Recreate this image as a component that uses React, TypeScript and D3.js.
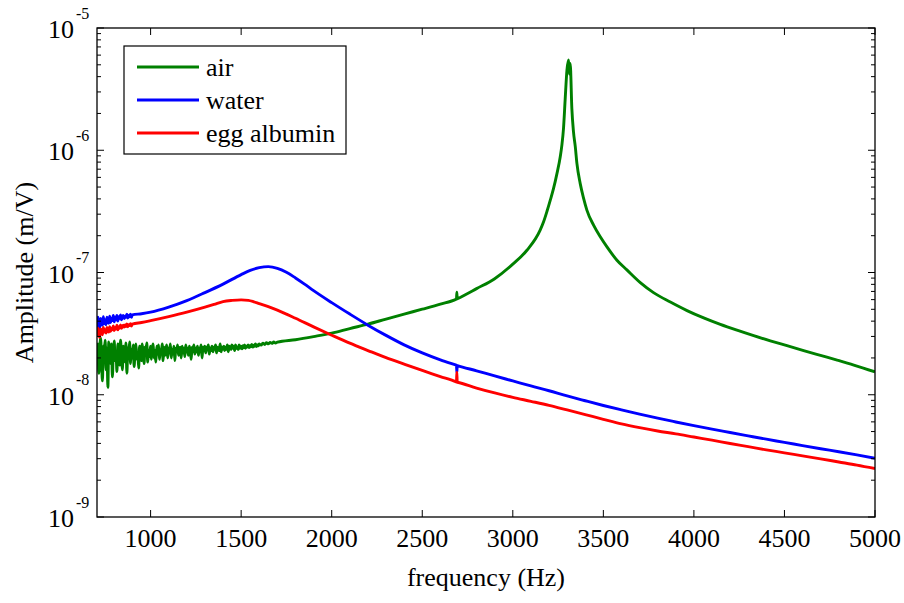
import React from 'react';
import * as d3 from 'd3';

// ---------- data (frequency in Hz, amplitude in m/V) ----------
const airFreq = [
  704, 709, 714, 719, 724, 729, 734, 739, 744, 749,
  754, 759, 764, 769, 774, 779, 784, 789, 794, 799,
  804, 809, 814, 819, 824, 829, 834, 839, 844, 849,
  854, 859, 864, 869, 874, 879, 884, 889, 894, 899,
  904, 909, 914, 919, 924, 929, 934, 939, 944, 949,
  954, 959, 964, 969, 974, 979, 984, 989, 994, 999,
  1004, 1009, 1014, 1019, 1024, 1029, 1034, 1039, 1044, 1049,
  1054, 1059, 1064, 1069, 1074, 1079, 1084, 1089, 1094, 1099,
  1104, 1109, 1114, 1119, 1124, 1129, 1134, 1139, 1144, 1149,
  1154, 1159, 1164, 1169, 1174, 1179, 1184, 1189, 1194, 1199,
  1204, 1209, 1214, 1219, 1224, 1229, 1234, 1239, 1244, 1249,
  1254, 1259, 1264, 1269, 1274, 1279, 1284, 1289, 1294, 1299,
  1304, 1309, 1314, 1319, 1324, 1329, 1334, 1339, 1344, 1349,
  1354, 1359, 1364, 1369, 1374, 1379, 1384, 1389, 1394, 1399,
  1404, 1409, 1414, 1419, 1424, 1429, 1434, 1439, 1444, 1449,
  1454, 1459, 1464, 1469, 1474, 1479, 1484, 1489, 1494, 1499,
  1504, 1509, 1514, 1519, 1524, 1529, 1534, 1539, 1544, 1549,
  1554, 1559, 1564, 1569, 1574, 1579, 1584, 1589, 1594, 1599,
  1610, 1620, 1630, 1640, 1650, 1660, 1670, 1680, 1690, 1700,
  1800, 1900, 2000, 2100, 2200, 2300, 2400, 2500, 2600, 2688,
  2689, 2691, 2693, 2694, 2800, 2900, 3000, 3078, 3151, 3170,
  3188, 3207, 3225, 3244, 3262, 3271, 3280, 3289, 3299, 3308,
  3312, 3317, 3326, 3335, 3345, 3354, 3372, 3391, 3409, 3446,
  3483, 3520, 3575, 3630, 3704, 3777, 3870, 3962, 4054, 4146,
  4238, 4330, 4422, 4514, 4606, 4699, 4791, 4883, 5000,
];
const airAmp = [
  2.0e-8, 2.6e-8, 1.5e-8, 2.3e-8, 2.9e-8, 1.9e-8, 1.3e-8, 2.5e-8, 2.2e-8, 2.8e-8,
  1.6e-8, 2.4e-8, 1.15e-8, 2.7e-8, 2.1e-8, 1.8e-8, 2.6e-8, 1.4e-8, 2.3e-8, 2.75e-8,
  1.9e-8, 2.2e-8, 1.55e-8, 2.6e-8, 2.4e-8, 1.75e-8, 2.8e-8, 2.0e-8, 1.6e-8, 2.5e-8,
  2.3e-8, 1.85e-8, 2.65e-8, 1.5e-8, 2.4e-8, 2.1e-8, 2.7e-8, 1.8e-8, 2.35e-8, 2.0e-8,
  2.55e-8, 1.7e-8, 2.3e-8, 2.6e-8, 1.95e-8, 2.2e-8, 1.65e-8, 2.5e-8, 2.35e-8, 1.9e-8,
  2.6e-8, 2.1e-8, 1.8e-8, 2.45e-8, 2.25e-8, 2.65e-8, 1.85e-8, 2.3e-8, 2.05e-8, 2.5e-8,
  1.95e-8, 2.4e-8, 2.6e-8, 2.0e-8, 2.3e-8, 1.85e-8, 2.5e-8, 2.15e-8, 2.55e-8, 1.95e-8,
  2.35e-8, 2.2e-8, 2.6e-8, 1.9e-8, 2.45e-8, 2.1e-8, 2.3e-8, 2.55e-8, 2.0e-8, 2.4e-8,
  2.2e-8, 2.6e-8, 2.0e-8, 2.35e-8, 2.15e-8, 2.5e-8, 1.9e-8, 2.4e-8, 2.25e-8, 2.55e-8,
  2.1e-8, 2.35e-8, 2.45e-8, 2.0e-8, 2.5e-8, 2.2e-8, 2.4e-8, 2.05e-8, 2.55e-8, 2.25e-8,
  2.4e-8, 2.1e-8, 2.5e-8, 2.3e-8, 1.95e-8, 2.45e-8, 2.25e-8, 2.55e-8, 2.15e-8, 2.4e-8,
  2.25e-8, 2.5e-8, 2.1e-8, 2.4e-8, 2.3e-8, 2.55e-8, 2.0e-8, 2.45e-8, 2.3e-8, 2.5e-8,
  2.2e-8, 2.45e-8, 2.35e-8, 2.55e-8, 2.15e-8, 2.4e-8, 2.3e-8, 2.5e-8, 2.25e-8, 2.45e-8,
  2.35e-8, 2.55e-8, 2.2e-8, 2.45e-8, 2.4e-8, 2.3e-8, 2.6e-8, 2.25e-8, 2.45e-8, 2.35e-8,
  2.5e-8, 2.3e-8, 2.45e-8, 2.35e-8, 2.55e-8, 2.25e-8, 2.5e-8, 2.4e-8, 2.35e-8, 2.55e-8,
  2.4e-8, 2.5e-8, 2.3e-8, 2.55e-8, 2.4e-8, 2.45e-8, 2.35e-8, 2.55e-8, 2.4e-8, 2.5e-8,
  2.38e-8, 2.52e-8, 2.42e-8, 2.55e-8, 2.4e-8, 2.5e-8, 2.45e-8, 2.56e-8, 2.43e-8, 2.52e-8,
  2.47e-8, 2.58e-8, 2.45e-8, 2.54e-8, 2.49e-8, 2.6e-8, 2.48e-8, 2.55e-8, 2.51e-8, 2.6e-8,
  2.55e-8, 2.64e-8, 2.58e-8, 2.66e-8, 2.61e-8, 2.68e-8, 2.63e-8, 2.7e-8, 2.65e-8, 2.69e-8,
  2.82e-8, 2.99e-8, 3.19e-8, 3.48e-8, 3.78e-8, 4.16e-8, 4.57e-8, 5.01e-8, 5.51e-8, 6.06e-8,
  6.07e-8, 6.9e-8, 6.09e-8, 6.1e-8, 7.38e-8, 8.9e-8, 1.17e-7, 1.52e-7, 2.22e-7, 2.6e-7,
  3.14e-7, 3.91e-7, 4.87e-7, 6.47e-7, 8.85e-7, 1.1e-6, 1.51e-6, 2.58e-6, 4.53e-6, 5.47e-6,
  4.2e-6, 5.14e-6, 2.2e-6, 1.42e-6, 1.07e-6, 7.81e-7, 5.36e-7, 4.04e-7, 3.24e-7, 2.44e-7,
  1.96e-7, 1.62e-7, 1.26e-7, 1.05e-7, 8.27e-8, 6.85e-8, 5.73e-8, 4.88e-8, 4.25e-8, 3.76e-8,
  3.37e-8, 3.04e-8, 2.76e-8, 2.52e-8, 2.3e-8, 2.1e-8, 1.92e-8, 1.75e-8, 1.54e-8,
];

const waterFreq = [
  704, 709, 714, 719, 724, 729, 734, 739, 744, 749,
  754, 759, 764, 769, 774, 779, 784, 789, 794, 799,
  804, 809, 814, 819, 824, 829, 834, 839, 844, 849,
  854, 859, 864, 869, 874, 879, 884, 889, 894, 899,
  950, 1000, 1100, 1200, 1300, 1400, 1500, 1550, 1600, 1650,
  1700, 1750, 1800, 1850, 1900, 2000, 2100, 2200, 2300, 2400,
  2500, 2600, 2688, 2689, 2691, 2693, 2694, 2800, 2900, 3000,
  3100, 3200, 3300, 3400, 3500, 3600, 3700, 3800, 3900, 4000,
  4100, 4200, 4300, 4400, 4500, 4600, 4700, 4800, 4900, 5000,
];
const waterAmp = [
  3.1e-8, 4.3e-8, 3.9e-8, 3.5e-8, 4.2e-8, 4.0e-8, 3.7e-8, 4.35e-8, 3.8e-8, 4.1e-8,
  3.75e-8, 4.3e-8, 4.0e-8, 3.85e-8, 4.4e-8, 3.9e-8, 4.2e-8, 4.05e-8, 4.45e-8, 3.95e-8,
  4.3e-8, 4.1e-8, 4.45e-8, 4.0e-8, 4.35e-8, 4.2e-8, 4.5e-8, 4.1e-8, 4.3e-8, 4.45e-8,
  4.2e-8, 4.4e-8, 4.3e-8, 4.55e-8, 4.25e-8, 4.45e-8, 4.35e-8, 4.55e-8, 4.3e-8, 4.5e-8,
  4.6e-8, 4.74e-8, 5.21e-8, 5.89e-8, 6.85e-8, 8.04e-8, 9.61e-8, 1.04e-7, 1.095e-7, 1.116e-7,
  1.082e-7, 1.004e-7, 9.03e-8, 8.04e-8, 7.11e-8, 5.67e-8, 4.57e-8, 3.71e-8, 3.06e-8, 2.56e-8,
  2.2e-8, 1.93e-8, 1.745e-8, 1.743e-8, 1.525e-8, 1.736e-8, 1.734e-8, 1.57e-8, 1.425e-8, 1.297e-8,
  1.18e-8, 1.078e-8, 9.78e-9, 8.93e-9, 8.17e-9, 7.52e-9, 6.94e-9, 6.43e-9, 5.99e-9, 5.59e-9,
  5.23e-9, 4.91e-9, 4.61e-9, 4.33e-9, 4.08e-9, 3.84e-9, 3.62e-9, 3.42e-9, 3.22e-9, 3.02e-9,
];

const albuminFreq = [
  704, 709, 714, 719, 724, 729, 734, 739, 744, 749,
  754, 759, 764, 769, 774, 779, 784, 789, 794, 799,
  804, 809, 814, 819, 824, 829, 834, 839, 844, 849,
  854, 859, 864, 869, 874, 879, 884, 889, 894, 899,
  950, 1000, 1100, 1200, 1300, 1350, 1400, 1450, 1500, 1540,
  1570, 1600, 1650, 1700, 1800, 1900, 2000, 2100, 2200, 2300,
  2400, 2500, 2600, 2688, 2689, 2691, 2693, 2694, 2800, 2900,
  3000, 3100, 3200, 3300, 3400, 3500, 3600, 3700, 3800, 3900,
  4000, 4100, 4200, 4300, 4400, 4500, 4600, 4700, 4800, 4900,
  5000,
];
const albuminAmp = [
  3.0e-8, 3.5e-8, 3.2e-8, 2.95e-8, 3.45e-8, 3.3e-8, 3.1e-8, 3.55e-8, 3.25e-8, 3.4e-8,
  3.2e-8, 3.55e-8, 3.35e-8, 3.25e-8, 3.6e-8, 3.3e-8, 3.5e-8, 3.4e-8, 3.65e-8, 3.35e-8,
  3.55e-8, 3.45e-8, 3.7e-8, 3.4e-8, 3.6e-8, 3.5e-8, 3.72e-8, 3.5e-8, 3.62e-8, 3.7e-8,
  3.58e-8, 3.72e-8, 3.62e-8, 3.8e-8, 3.6e-8, 3.75e-8, 3.68e-8, 3.82e-8, 3.65e-8, 3.78e-8,
  3.9e-8, 4.04e-8, 4.36e-8, 4.74e-8, 5.21e-8, 5.48e-8, 5.78e-8, 5.91e-8, 5.97e-8, 5.92e-8,
  5.76e-8, 5.56e-8, 5.26e-8, 4.92e-8, 4.22e-8, 3.59e-8, 3.07e-8, 2.64e-8, 2.3e-8, 2.01e-8,
  1.78e-8, 1.58e-8, 1.41e-8, 1.272e-8, 1.27e-8, 1.53e-8, 1.266e-8, 1.265e-8, 1.135e-8, 1.035e-8,
  9.52e-9, 8.84e-9, 8.19e-9, 7.51e-9, 6.88e-9, 6.3e-9, 5.78e-9, 5.38e-9, 5.05e-9, 4.79e-9,
  4.51e-9, 4.25e-9, 3.99e-9, 3.76e-9, 3.54e-9, 3.35e-9, 3.16e-9, 2.99e-9, 2.82e-9, 2.66e-9,
  2.49e-9,
];

const seriesNames = ['air', 'water', 'egg albumin'];
const seriesColors = ['#008000', '#0000ff', '#ff0000'];
const freqTicks = [1000, 1500, 2000, 2500, 3000, 3500, 4000, 4500, 5000];
const ampDecades = [1e-9, 1e-8, 1e-7, 1e-6, 1e-5];
const ampExponents = ['-9', '-8', '-7', '-6', '-5'];
const xLabel = 'frequency (Hz)';
const yLabel = 'Amplitude (m/V)';

// ---------- layout ----------
const W = 904, H = 603;
const L = 97, R = 875, T = 28, B = 517;
const FONT = "'Liberation Serif', 'Times New Roman', serif";

export default function App() {
  const x = d3.scaleLinear().domain([704, 5000]).range([L, R]);
  const y = d3.scaleLog().domain([1e-9, 1e-5]).range([B, T]);

  const series = [
    { f: airFreq, a: airAmp },
    { f: waterFreq, a: waterAmp },
    { f: albuminFreq, a: albuminAmp },
  ];
  const line = d3
    .line<[number, number]>()
    .x((d) => x(d[0]))
    .y((d) => y(d[1]))
    .curve(d3.curveMonotoneX);

  const minor: number[] = [];
  for (let i = 0; i < ampDecades.length - 1; i++) {
    for (let k = 2; k <= 9; k++) minor.push(ampDecades[i] * k);
  }

  const legX = 124, legY = 46, legW = 222, legH = 108;

  return (
    <svg
      width={W}
      height={H}
      style={{ position: 'absolute', left: 0, top: 0, background: '#fff' }}
      fontFamily={FONT}
    >
      <rect x={0} y={0} width={W} height={H} fill="#fff" />
      <defs>
        <clipPath id="plotClip">
          <rect x={L} y={T} width={R - L} height={B - T} />
        </clipPath>
      </defs>

      {/* curves */}
      <g clipPath="url(#plotClip)">
        {series.map((s, i) => (
          <path
            key={i}
            d={line(s.f.map((f, j) => [f, s.a[j]] as [number, number])) || ''}
            fill="none"
            stroke={seriesColors[i]}
            strokeWidth={2.9}
            strokeLinejoin="round"
          />
        ))}
      </g>

      {/* axes box */}
      <rect x={L} y={T} width={R - L} height={B - T} fill="none" stroke="#000" strokeWidth={1.3} />

      {/* x ticks */}
      {freqTicks.map((t) => (
        <g key={t}>
          <line x1={x(t)} x2={x(t)} y1={B} y2={B - 7} stroke="#000" strokeWidth={1} />
          <line x1={x(t)} x2={x(t)} y1={T} y2={T + 7} stroke="#000" strokeWidth={1} />
          <text x={x(t)} y={B + 29.5} textAnchor="middle" fontSize={26} fill="#000">
            {t}
          </text>
        </g>
      ))}

      {/* y ticks */}
      {ampDecades.map((t, i) => (
        <g key={t}>
          <line x1={L} x2={L + 7} y1={y(t)} y2={y(t)} stroke="#000" strokeWidth={1} />
          <line x1={R} x2={R - 7} y1={y(t)} y2={y(t)} stroke="#000" strokeWidth={1} />
          <text x={74} y={y(t) + 10} textAnchor="end" fontSize={26} fill="#000">
            10
          </text>
          <text x={76} y={y(t) - 9.5} textAnchor="start" fontSize={16} fill="#000">
            {ampExponents[i]}
          </text>
        </g>
      ))}
      {minor.map((t) => (
        <g key={'m' + t}>
          <line x1={L} x2={L + 4} y1={y(t)} y2={y(t)} stroke="#000" strokeWidth={1} />
          <line x1={R} x2={R - 4} y1={y(t)} y2={y(t)} stroke="#000" strokeWidth={1} />
        </g>
      ))}

      {/* axis labels */}
      <text x={(L + R) / 2} y={586} textAnchor="middle" fontSize={26} fill="#000">
        {xLabel}
      </text>
      <text
        transform={`translate(33, ${(T + B) / 2}) rotate(-90)`}
        textAnchor="middle"
        fontSize={26}
        fill="#000"
      >
        {yLabel}
      </text>

      {/* legend */}
      <rect x={legX} y={legY} width={legW} height={legH} fill="#fff" stroke="#000" strokeWidth={1.2} />
      {seriesNames.map((n, i) => {
        const ly = legY + 21 + i * 33;
        return (
          <g key={n}>
            <line x1={legX + 13} x2={legX + 75} y1={ly} y2={ly} stroke={seriesColors[i]} strokeWidth={3} />
            <text x={legX + 82} y={ly + 8.5} fontSize={26} fill="#000">
              {n}
            </text>
          </g>
        );
      })}
    </svg>
  );
}
